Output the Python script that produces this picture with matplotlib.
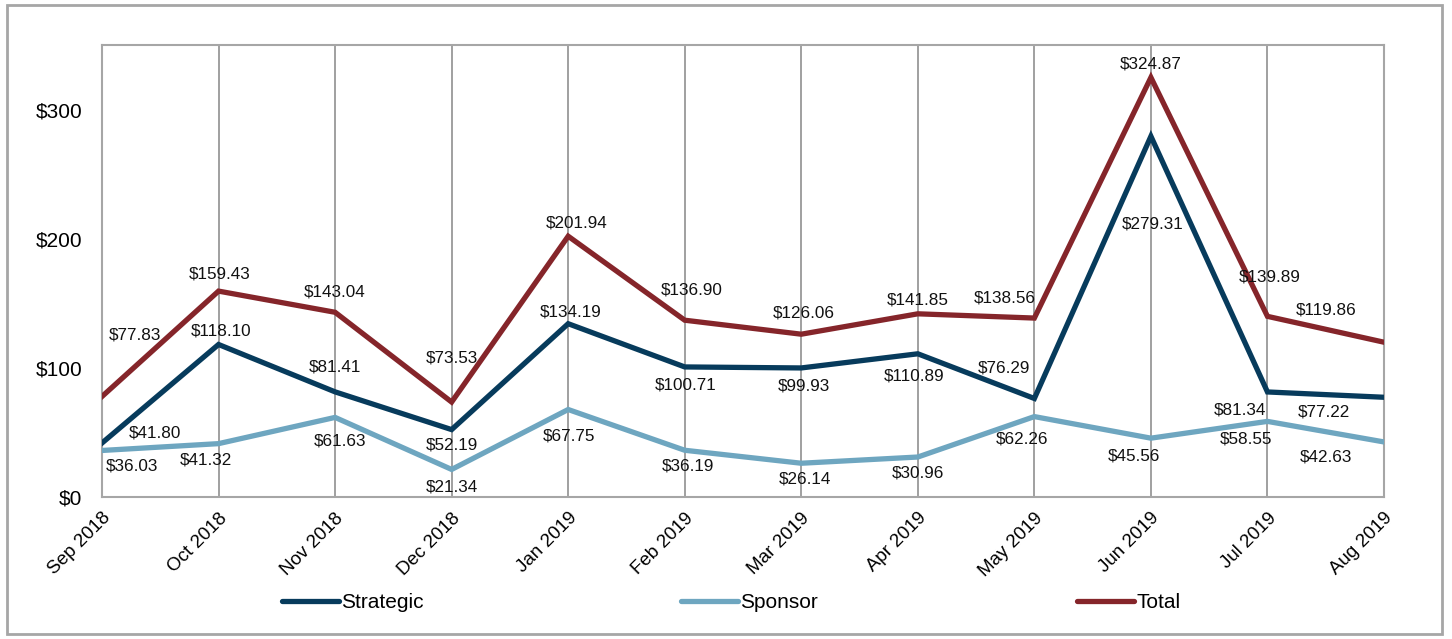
import matplotlib
matplotlib.use("Agg")
import matplotlib.pyplot as plt
from matplotlib.lines import Line2D
from matplotlib.patches import Rectangle
from matplotlib.transforms import ScaledTranslation

plt.rcParams['font.family'] = ['Liberation Sans', 'DejaVu Sans']

months = ["Sep 2018", "Oct 2018", "Nov 2018", "Dec 2018", "Jan 2019", "Feb 2019",
          "Mar 2019", "Apr 2019", "May 2019", "Jun 2019", "Jul 2019", "Aug 2019"]
strategic = [41.80, 118.10, 81.41, 52.19, 134.19, 100.71, 99.93, 110.89, 76.29, 279.31, 81.34, 77.22]
sponsor = [36.03, 41.32, 61.63, 21.34, 67.75, 36.19, 26.14, 30.96, 62.26, 45.56, 58.55, 42.63]
total = [77.83, 159.43, 143.04, 73.53, 201.94, 136.90, 126.06, 141.85, 138.56, 324.87, 139.89, 119.86]
yticks = [0, 100, 200, 300]

# label offsets in pixels (dx, dy) relative to the data point
off_total = [(33, 61), (1, 17), (0, 20), (0, 44), (8, 13), (7, 30), (3, 21), (0, 14),
             (-30, 20), (0, 13), (2, 39), (-58, 32)]
off_strat = [(53, 10), (3, 13), (0, 25), (0, -15), (2, 12), (1, -18), (3, -18), (-4, -22),
             (-30, 30), (2, -88), (-27, -18), (-60, -15)]
off_spon = [(30, -16), (-13, -16), (5, -24), (0, -18), (1, -26), (3, -16), (4, -16), (0, -16),
            (-12, -22), (-17, -18), (-21, -18), (-58, -15)]

c_strat = "#073B5C"
c_spon = "#6EA6C0"
c_total = "#85252A"

fig = plt.figure(figsize=(14.52, 6.39), dpi=100)
ax = fig.add_axes([102/1452, 1-497/639, (1384-102)/1452, (497-45)/639])

x = list(range(len(months)))
lw = 3.8
ax.plot(x, total, color=c_total, lw=lw, solid_joinstyle='miter', zorder=3)
ax.plot(x, strategic, color=c_strat, lw=lw, solid_joinstyle='miter', zorder=3)
ax.plot(x, sponsor, color=c_spon, lw=lw, solid_joinstyle='miter', zorder=3)

fs_lab = 12.3
for series, offs in ((total, off_total), (strategic, off_strat), (sponsor, off_spon)):
    for xi, v, (dx, dy) in zip(x, series, offs):
        ax.annotate(f"${v:.2f}", (xi, v), xytext=(dx, dy), textcoords='offset pixels',
                    ha='center', va='center', fontsize=fs_lab, color='#111111', zorder=4)

ax.set_xlim(0, len(months) - 1)
ax.set_ylim(0, 350)
ax.set_xticks(x)
ax.set_xticklabels(months, rotation=45, ha='right', rotation_mode='anchor', fontsize=13.5)
shift = ScaledTranslation(-3/100, -4/100, fig.dpi_scale_trans)
for lab in ax.get_xticklabels():
    lab.set_transform(lab.get_transform() + shift)
ax.set_yticks(yticks)
ax.set_yticklabels([f"${t}" for t in yticks], fontsize=15)
ax.tick_params(axis='x', length=0, pad=9)
ax.tick_params(axis='y', length=0, pad=14)
ax.grid(axis='x', color='#999999', lw=1.3, zorder=1)
ax.grid(axis='y', visible=False)
for s in ax.spines.values():
    s.set_color('#A6A6A6')
    s.set_linewidth(1.5)

# legend items
items = [("Strategic", c_strat, 282), ("Sponsor", c_spon, 681), ("Total", c_total, 1077)]
for name, col, px in items:
    h = Line2D([], [], color=col, lw=lw, solid_capstyle='round')
    fig.legend([h], [name], loc='center left', bbox_to_anchor=(px/1452, 1-603/639),
               frameon=False, fontsize=15, handlelength=2.75, handletextpad=0.1,
               borderaxespad=0, borderpad=0)

# outer frame
fig.patches.append(Rectangle((7/1452, 1-634/639), (1442-7)/1452, (634-5)/639,
                             transform=fig.transFigure, fill=False,
                             edgecolor='#A6A6A6', lw=2))

fig.savefig("out.png", dpi=100)
